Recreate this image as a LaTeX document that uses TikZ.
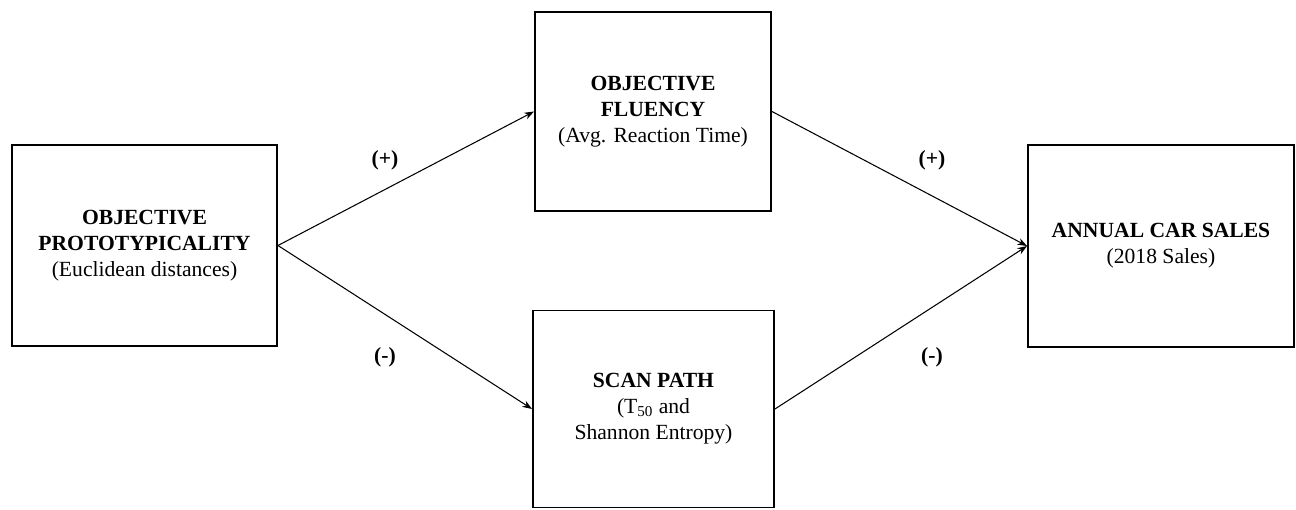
\documentclass[tikz,border=0pt]{standalone}
\usepackage{fontspec}
\setmainfont{Liberation Serif}
\usetikzlibrary{arrows.meta}
\tikzset{
	varbox/.style={rectangle,draw,line width=1.1pt,fill=white,align=center,font=\fontsize{12.3}{14.8}\selectfont},
	diredge/.style={-{Stealth[width=4pt,length=5.5pt]},color=black,line width=0.6pt},
	signlabel/.style={font=\fontsize{12.3}{14}\selectfont\bfseries, text centered}
}

\begin{document}
\begin{tikzpicture}[x=0.02cm,y=-0.02cm]
	\useasboundingbox (0,0) rectangle (1296,510);
	%%%% boxes
	\node[varbox,minimum width=265*0.02cm,minimum height=201*0.02cm] (proto) at (144.5,245.5) {\textbf{OBJECTIVE}\\\textbf{PROTOTYPICALITY}\\(Euclidean distances)};
	\node[varbox,minimum width=236*0.02cm,minimum height=199*0.02cm] (fluency) at (653,111.5) {\textbf{OBJECTIVE}\\\textbf{FLUENCY}\\(Avg. Reaction Time)};
	\node[varbox,minimum width=241*0.02cm,minimum height=197*0.02cm] (scan) at (653.5,409) {\textbf{SCAN PATH}\\(T\textsubscript{50} and\\Shannon Entropy)};
	\node[varbox,minimum width=266*0.02cm,minimum height=202*0.02cm] (sales) at (1161,246) {\textbf{ANNUAL CAR SALES}\\(2018 Sales)};
	
	%%%% paths
	\draw (proto.east) edge[diredge] (fluency.west);
	\draw (proto.east) edge[diredge] (scan.west);
	\draw (fluency.east) edge[diredge] (sales.west);
	\draw (scan.east) edge[diredge] (sales.west);
	
	%%%% signs
	\node[signlabel] (s1) at (385,160) {(+)};
	\node[signlabel] (s2) at (385,357) {(-)};
	\node[signlabel] (s3) at (932,160) {(+)};
	\node[signlabel] (s4) at (932,357) {(-)};
\end{tikzpicture}
\end{document}
